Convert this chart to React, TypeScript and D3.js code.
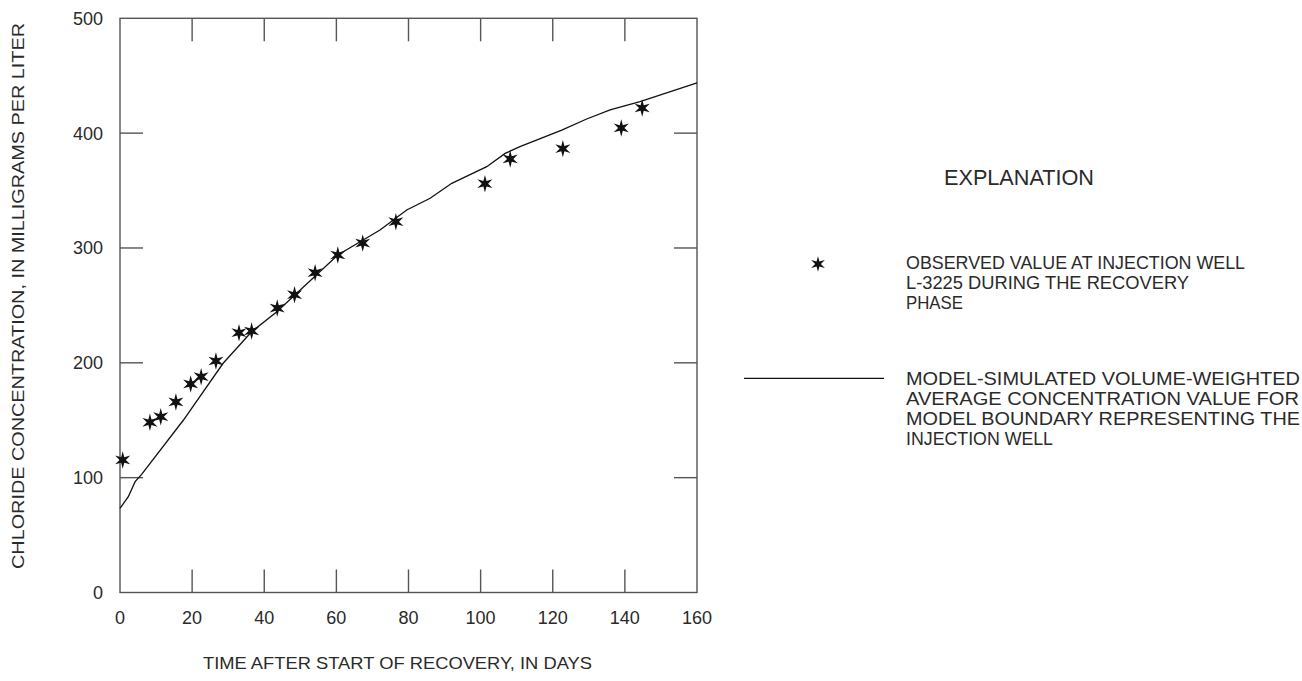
import React from "react";
import * as d3 from "d3";

// ---- data ----
const obsDays = [0.75, 8.3, 11.3, 15.5, 19.6, 22.5, 26.6, 33.0, 36.5, 43.6, 48.4, 54.1, 60.4, 67.3, 76.5, 101.2, 108.2, 122.8, 139.0, 144.8];
const obsConc = [115.4, 148.2, 153.1, 165.9, 181.6, 187.9, 201.6, 226.2, 227.7, 247.7, 259.3, 278.5, 293.9, 304.3, 322.9, 356.0, 377.5, 386.5, 404.5, 421.9];

const simDays = [0, 2.3, 4.2, 6.0, 17.6, 28.6, 36.5, 43.5, 60.4, 72.1, 79.5, 86.0, 92.0, 101.7, 106.8, 110.9, 122.5, 129.4, 135.9, 144.2, 160];
const simConc = [73.3, 83.4, 96.5, 102.9, 150.2, 199.6, 227.1, 244.5, 293.9, 315.7, 333.1, 343.3, 356.3, 370.8, 382.4, 388.2, 402.7, 412.3, 420.2, 427.4, 443.7];

const xTicks = [0, 20, 40, 60, 80, 100, 120, 140, 160];
const yTicks = [0, 100, 200, 300, 400, 500];

const xTitle = "TIME AFTER START OF RECOVERY, IN DAYS";
const yTitle = "CHLORIDE CONCENTRATION, IN MILLIGRAMS PER LITER";
const legendTitle = "EXPLANATION";
const legendObs = ["OBSERVED VALUE AT INJECTION WELL", "L-3225 DURING THE  RECOVERY", "PHASE"];
const legendSim = ["MODEL-SIMULATED VOLUME-WEIGHTED", "AVERAGE CONCENTRATION VALUE FOR", "MODEL BOUNDARY REPRESENTING THE", "INJECTION WELL"];

// ---- layout ----
const W = 1302, H = 681;
const L = 120, R = 697, T = 18.3, B = 592.5;
const TICK = 23;
const FONT = "'Liberation Sans', Arial, Helvetica, sans-serif";
const TEXT = "#2a2a2a";
const FRAME = "#555";

const obsWidths = [339, 283, 57];
const simWidths = [394, 393, 394, 147];

const star6 = {
  draw(ctx: any, size: number) {
    const ro = Math.sqrt(size) * 0.75;
    const ri = ro * 0.36;
    for (let i = 0; i < 12; i++) {
      const a = (i * Math.PI) / 6;
      const r = i % 2 === 0 ? ro : ri;
      const x = r * Math.sin(a);
      const y = -r * Math.cos(a);
      if (i === 0) ctx.moveTo(x, y);
      else ctx.lineTo(x, y);
    }
    ctx.closePath();
  },
};

export default function App() {
  const x = d3.scaleLinear().domain([0, 160]).range([L, R]);
  const y = d3.scaleLinear().domain([0, 500]).range([B, T]);

  const line = d3
    .line<number>()
    .x((_, i) => x(simDays[i]))
    .y((d) => y(d));
  const starPath = d3.symbol().type(star6 as any).size(135)() as string;

  return (
    <svg
      width={W}
      height={H}
      style={{ position: "absolute", left: 0, top: 0, background: "#fff" }}
      fontFamily={FONT}
    >
      <rect x={0} y={0} width={W} height={H} fill="#fff" />
      {/* frame */}
      <rect x={L} y={T} width={R - L} height={B - T} fill="none" stroke={FRAME} strokeWidth={1.4} />
      {/* x ticks (top & bottom, inward) */}
      {xTicks.slice(1, -1).map((t) => (
        <g key={"xt" + t} stroke={FRAME} strokeWidth={1.4}>
          <line x1={x(t)} x2={x(t)} y1={B} y2={B - TICK} />
          <line x1={x(t)} x2={x(t)} y1={T} y2={T + TICK} />
        </g>
      ))}
      {yTicks.slice(1, -1).map((t) => (
        <g key={"yt" + t} stroke={FRAME} strokeWidth={1.4}>
          <line x1={L} x2={L + TICK} y1={y(t)} y2={y(t)} />
          <line x1={R} x2={R - TICK} y1={y(t)} y2={y(t)} />
        </g>
      ))}
      {/* tick labels */}
      {xTicks.map((t) => (
        <text key={"xl" + t} x={x(t)} y={624} textAnchor="middle" fontSize={18} fill={TEXT}>
          {t}
        </text>
      ))}
      {yTicks.map((t) => (
        <text key={"yl" + t} x={103} y={y(t) + 6.5} textAnchor="end" fontSize={18} fill={TEXT}>
          {t}
        </text>
      ))}
      {/* axis titles */}
      <text x={397.5} y={669} textAnchor="middle" fontSize={16.5} fill={TEXT} textLength={389} lengthAdjust="spacingAndGlyphs">
        {xTitle}
      </text>
      <text
        transform={`translate(24,296) rotate(-90)`}
        textAnchor="middle"
        fontSize={16.5}
        fill={TEXT}
        textLength={546}
        lengthAdjust="spacingAndGlyphs"
      >
        {yTitle}
      </text>
      {/* simulated line */}
      <path d={line(simConc) as string} fill="none" stroke="#111" strokeWidth={1.3} />
      {/* observed stars */}
      {obsConc.map((v, i) => (
        <path key={"s" + i} d={starPath} transform={`translate(${x(obsDays[i])},${y(v)})`} fill="#111" />
      ))}
      {/* legend */}
      <text x={944} y={185} fontSize={22} fill={TEXT} textLength={150} lengthAdjust="spacingAndGlyphs">
        {legendTitle}
      </text>
      <path d={starPath} transform="translate(818,264) scale(0.9)" fill="#111" />
      {legendObs.map((s, i) => (
        <text key={"lo" + i} x={906} y={268.5 + i * 20} fontSize={19} fill={TEXT} textLength={obsWidths[i]} lengthAdjust="spacingAndGlyphs">
          {s}
        </text>
      ))}
      <line x1={744} x2={884} y1={378.3} y2={378.3} stroke="#111" strokeWidth={1.3} />
      {legendSim.map((s, i) => (
        <text key={"ls" + i} x={906} y={385 + i * 20} fontSize={19} fill={TEXT} textLength={simWidths[i]} lengthAdjust="spacingAndGlyphs">
          {s}
        </text>
      ))}
    </svg>
  );
}
